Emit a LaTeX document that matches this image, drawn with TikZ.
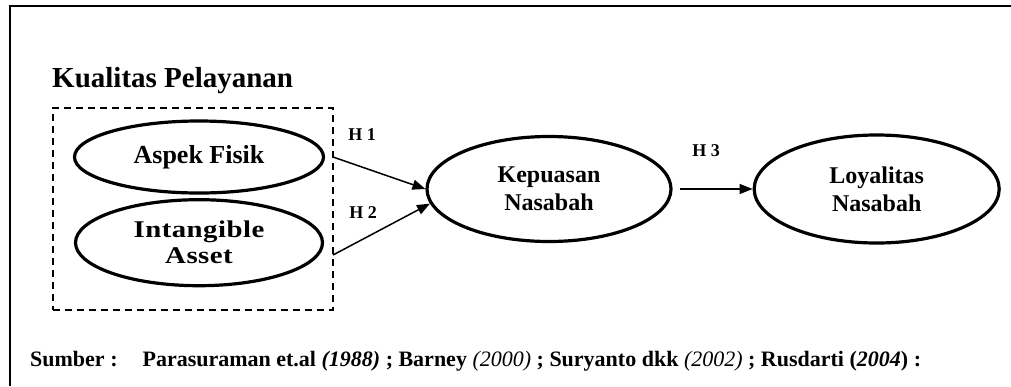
\documentclass[tikz,border=0pt]{standalone}
\usepackage{fontspec}
\setmainfont{Liberation Serif}
\usetikzlibrary{arrows.meta,shapes,positioning,calc}
\tikzset{%
  >={Triangle[width=10pt,length=13pt]},
  % Specifications for style of nodes:
         construct/.style = {ellipse, draw=black, line width=3.2pt, inner sep=0pt,
                             align=center, font=\bfseries\fontsize{24}{28}\selectfont},
          groupbox/.style = {rectangle, draw=black, line width=1.4pt,
                             dash pattern=on 7pt off 5pt},
            hlabel/.style = {inner sep=0pt, font=\bfseries\fontsize{18}{20}\selectfont},
              link/.style = {->, line width=1.5pt}
                           }

\begin{document}
\begin{tikzpicture}[x=1pt, y=-1pt]
    \useasboundingbox (0,0) rectangle (1011,386);
    \draw[line width=2pt] (10,386) -- (10,6) -- (1011,6);

    \node (title)      [anchor=base west, inner sep=0pt,
                        font=\bfseries\fontsize{29}{34}\selectfont] at (52,87) {Kualitas Pelayanan};
    \node (kualitas)   [groupbox, minimum width=280pt, minimum height=202pt] at (193,209) {};
    \node (aspek)      [construct, minimum width=249pt, minimum height=72pt,
                        font=\bfseries\fontsize{26}{30}\selectfont] at (199,157) {Aspek Fisik};
    \node (intangible) [construct, minimum width=247pt, minimum height=86pt, below=3.5pt of aspek,
                        font=\bfseries\fontsize{24}{26}\selectfont\addfontfeature{FakeStretch=1.2,LetterSpace=2}]
                       {Intangible\\ Asset};
    \node (kepuasan)   [construct, minimum width=244pt, minimum height=105pt] at (549,189)
                       {Kepuasan\\ Nasabah};
    \node (loyalitas)  [construct, minimum width=245pt, minimum height=108pt, right=80pt of kepuasan]
                       {Loyalitas\\ Nasabah};

    \coordinate (h1from) at (333,157);
    \coordinate (h2from) at (333,255);
    \draw[link]  (h1from) -- (kepuasan.west);
    \draw[link]  (h2from) -- (kepuasan.187);
    \draw[link, shorten <=7pt]  (kepuasan) -- (loyalitas);

    \node (h1) [hlabel] at (362,135) {H 1};
    \node (h2) [hlabel] at (363,213) {H 2};
    \node (h3) [hlabel] at (706,151) {H 3};

    \node (sumber) [anchor=base west, inner sep=0pt,
                    font=\bfseries\fontsize{22}{26}\selectfont] at (30,366)
          {Sumber :\hspace{25pt}Parasuraman et.al \textit{(1988)} ; Barney {\mdseries\itshape (2000)} ;
           Suryanto dkk {\mdseries\itshape (2002)} ; Rusdarti (\textit{2004}) :};
\end{tikzpicture}
\end{document}
